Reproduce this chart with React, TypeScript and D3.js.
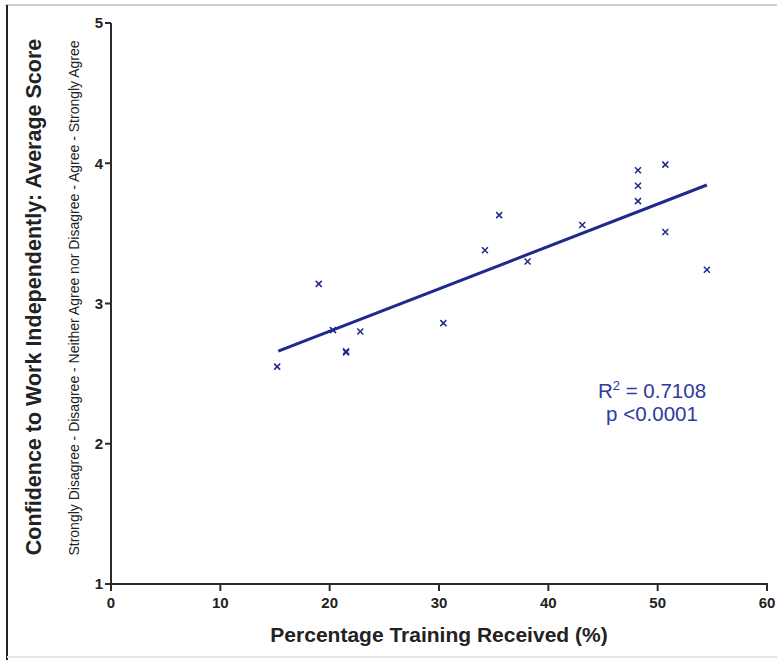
import React from "react";
import * as d3 from "d3";

const trainingPct = [15.2, 19.0, 20.3, 21.5, 21.5, 22.8, 30.4, 34.2, 35.5, 38.1, 43.1, 48.2, 48.2, 48.2, 50.7, 50.7, 54.5];
const confidenceScore = [2.55, 3.14, 2.81, 2.66, 2.65, 2.80, 2.86, 3.38, 3.63, 3.30, 3.56, 3.95, 3.84, 3.73, 3.99, 3.51, 3.24];
const fitRange = [15.3, 54.5];
const fitSlope = 0.0302;
const fitIntercept = 2.199;
const xTicks = [0, 10, 20, 30, 40, 50, 60];
const yTicks = [1, 2, 3, 4, 5];

const W = 777, H = 660;
const ML = 111, MR = 767, MT = 23, MB = 584;
const COND = "'Liberation Sans Narrow', 'Arial Narrow', 'Liberation Sans', Arial, sans-serif";
const SANS = "'Liberation Sans', Arial, sans-serif";
const AX = "#2b2b2b";
const NAVY = "#1e2a8c";

export default function App() {
  const x = d3.scaleLinear().domain([0, 60]).range([ML, MR]);
  const y = d3.scaleLinear().domain([1, 5]).range([MB, MT]);
  const line = d3.line<number>().x(v => x(v)).y(v => y(fitIntercept + fitSlope * v));
  return (
    <svg width={W} height={H} style={{ position: "absolute", left: 0, top: 0, background: "#fff" }}>
      <line x1={5} x2={777} y1={5} y2={5} stroke="#d0d0d0" strokeWidth={2} />
      <line x1={7} x2={7} y1={5} y2={660} stroke="#222" strokeWidth={2} />
      <line x1={7} x2={777} y1={657} y2={657} stroke="#e4e4e4" strokeWidth={2} />
      {/* axes */}
      <line x1={ML} x2={ML} y1={y(5)} y2={y(1) + 1} stroke={AX} strokeWidth={2} />
      <line x1={ML - 1} x2={MR + 1} y1={MB} y2={MB} stroke={AX} strokeWidth={2} />
      {yTicks.map(t => (
        <g key={"y" + t}>
          <line x1={ML - 6} x2={ML} y1={y(t)} y2={y(t)} stroke={AX} strokeWidth={2} />
          <text x={ML - 8} y={y(t)} dy="0.36em" textAnchor="end" fontFamily={COND} fontWeight="bold" fontSize={15} fill="#222">{t}</text>
        </g>
      ))}
      {xTicks.map(t => (
        <g key={"x" + t}>
          <line x1={x(t)} x2={x(t)} y1={MB} y2={MB + 7} stroke={AX} strokeWidth={2} />
          <text x={x(t)} y={MB + 24} textAnchor="middle" fontFamily={COND} fontWeight="bold" fontSize={15} fill="#222">{t}</text>
        </g>
      ))}
      {/* titles */}
      <text x={(ML + MR) / 2} y={642} textAnchor="middle" fontFamily={COND} fontWeight="bold" fontSize={21} fill="#222">Percentage Training Received (%)</text>
      <text transform={`translate(41,297) rotate(-90)`} textAnchor="middle" fontFamily={COND} fontWeight="bold" fontSize={21.5} fill="#222">Confidence to Work Independently: Average Score</text>
      <text transform={`translate(79,298) rotate(-90)`} textAnchor="middle" fontFamily={COND} fontSize={14} fill="#222">Strongly Disagree - Disagree - Neither Agree nor Disagree - Agree - Strongly Agree</text>
      {/* fit line */}
      <path d={line(fitRange) || ""} stroke={NAVY} strokeWidth={3} fill="none" />
      {/* points */}
      {trainingPct.map((v, i) => {
        const cx = x(v), cy = y(confidenceScore[i]), s = 3;
        return (
          <path key={i} d={`M${cx - s},${cy - s}L${cx + s},${cy + s}M${cx - s},${cy + s}L${cx + s},${cy - s}`} stroke={NAVY} strokeWidth={1.5} />
        );
      })}
      {/* annotation */}
      <text x={652} y={398} textAnchor="middle" fontFamily={SANS} fontSize={20.5} fill="#2f3aa0">
        R<tspan dy={-8} fontSize={13}>2</tspan><tspan dy={8}> = 0.7108</tspan>
      </text>
      <text x={652} y={421} textAnchor="middle" fontFamily={SANS} fontSize={20.5} fill="#2f3aa0">p &lt;0.0001</text>
    </svg>
  );
}
